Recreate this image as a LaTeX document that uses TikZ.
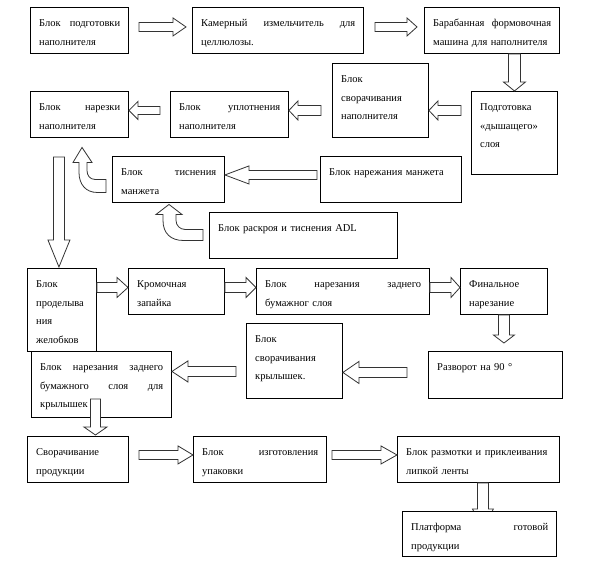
\documentclass[tikz,border=0pt]{standalone}
\usepackage{fontspec}
\setmainfont{Liberation Serif}
\usetikzlibrary{calc}
\tikzset{
  boxst/.style={draw=black, line width=0.9pt, fill=white, inner sep=0pt, anchor=north west},
  txt/.style={inner sep=0pt, anchor=north west, align=left, font=\fontsize{10.5}{18.5}\selectfont},
  blockarrow/.style={draw=black!80, line width=0.8pt, fill=white, line join=miter},
}
\newcommand\jl[1]{\leavevmode\hbox to\hsize{#1}}
\newcommand\bx[6]{%
  \node[boxst, minimum width={#4-#2}, minimum height={#5-#3}] (#1) at (#2,#3) {};
  \node[txt, text width={#4-#2-17}] (#1t) at ({#2+9},{#3+11.5}) {\leavevmode\rule{0pt}{8pt}#6};}
% block arrow: tail, tip, shaft half width, head half width, head length
\newcommand\barrow[5]{%
  \coordinate (tmpT) at #1;
  \coordinate (tmpP) at #2;
  \coordinate (tmpB) at ($(tmpP)!#5pt!(tmpT)$);
  \draw[blockarrow] ($(tmpT)!#3pt!90:(tmpP)$) -- ($(tmpB)!#3pt!-90:(tmpT)$) -- ($(tmpB)!#4pt!-90:(tmpT)$)
     -- (tmpP) -- ($(tmpB)!#4pt!90:(tmpT)$) -- ($(tmpB)!#3pt!90:(tmpT)$) -- ($(tmpT)!#3pt!-90:(tmpP)$) -- cycle;}
\begin{document}
\begin{tikzpicture}[x=1pt,y=-1pt]
\useasboundingbox (0,0) rectangle (599,568);
\bx{b1}{30}{7}{128}{53}{\jl{Блок\hfill подготовки}\\\mbox{наполнителя}}
\bx{b2}{192}{7}{363}{53}{\jl{Камерный\hfill измельчитель\hfill для}\\\mbox{целлюлозы.}}
\bx{b3}{424}{7}{559}{53}{\jl{Барабанная\hfill формовочная}\\\mbox{машина для наполнителя}}
\bx{b4}{471}{91}{557}{174}{\mbox{Подготовка}\\\mbox{«дышащего»}\\\mbox{слоя}}
\bx{b5}{332}{63}{428}{137}{\mbox{Блок}\\\mbox{сворачивания}\\\mbox{наполнителя}}
\bx{b6}{170}{91}{288}{137}{\jl{Блок\hfill уплотнения}\\\mbox{наполнителя}}
\bx{b7}{30}{91}{128}{137}{\jl{Блок\hfill нарезки}\\\mbox{наполнителя}}
\bx{b8}{112}{156}{224}{202}{\jl{Блок\hfill тиснения}\\\mbox{манжета}}
\bx{b9}{320}{156}{461}{202}{\mbox{Блок нарежания манжета}}
\bx{b10}{209}{212}{397}{258}{\mbox{Блок раскроя и тиснения ADL}}
\bx{b11}{27}{268}{96}{351}{\mbox{Блок}\\\mbox{проделыва}\\\mbox{ния}\\\mbox{желобков}}
\bx{b12}{128}{268}{224}{314}{\mbox{Кромочная}\\\mbox{запайка}}
\bx{b13}{256}{268}{429}{314}{\jl{Блок\hfill нарезания\hfill заднего}\\\mbox{бумажног слоя}}
\bx{b14}{460}{268}{547}{314}{\mbox{Финальное}\\\mbox{нарезание}}
\bx{b15}{428}{351}{562}{398}{\mbox{Разворот на 90 °}}
\bx{b16}{246}{323}{342}{398}{\mbox{Блок}\\\mbox{сворачивания}\\\mbox{крылышек.}}
\bx{b17}{31}{351}{171}{417}{\jl{Блок\hfill нарезания\hfill заднего}\\\jl{бумажного\hfill слоя\hfill для}\\\mbox{крылышек}}
\bx{b18}{27}{436}{128}{482}{\mbox{Сворачивание}\\\mbox{продукции}}
\bx{b19}{193}{436}{326}{482}{\jl{Блок\hfill изготовления}\\\mbox{упаковки}}
\bx{b20}{397}{436}{559}{482}{\mbox{Блок размотки и приклеивания}\\\mbox{липкой ленты}}
% arrows
\barrow{($(b1.east)+(10,-3.5)$)}{($(b2.west)+(-6,-3.5)$)}{4.5}{9}{13}
\barrow{($(b2.east)+(11,-3.5)$)}{($(b3.west)+(-7,-3.5)$)}{4.5}{9}{10}
\barrow{(b3.south -| b4.north)}{(b4.north)}{6}{11}{9}
\barrow{($(b4.west)+(-10,-22.5)$)}{($(b5.east)+(0,10)$)}{5}{9.5}{9}
\barrow{($(b5.west)+(-11,10)$)}{($(b6.east)+(0,-4)$)}{5}{9.5}{9}
\barrow{($(b6.west)+(-10,-4)$)}{($(b7.east)+(0,-4)$)}{4}{9}{9}
\barrow{($(b9.west)+(-3,-4.5)$)}{($(b8.east)+(0,-4.5)$)}{4.5}{9}{24}
\barrow{($(b7.south)+(-20.5,19)$)}{($(b11.north)+(-3,-1)$)}{5.5}{11}{27}
\barrow{($(b11.east)+(0,-22.5)$)}{($(b12.west)+(0,-4)$)}{5}{10}{11}
\barrow{($(b12.east)+(0,-4)$)}{($(b13.west)+(0,-4)$)}{5}{10}{10}
\barrow{($(b13.east)+(0,-4)$)}{($(b14.west)+(0,-4)$)}{5}{10}{9}
\barrow{(b14.south)}{($(b15.north)+(8.5,-8)$)}{5.5}{10.5}{8}
\barrow{($(b15.west)+(-21,-2.5)$)}{($(b16.east)+(0,11.5)$)}{5}{11}{16}
\barrow{($(b16.west)+(-10,10.5)$)}{($(b17.east)+(0,-13)$)}{5}{10.5}{16}
\barrow{($(b17.south)+(-6,-19)$)}{($(b18.north)+(17.5,-1)$)}{5}{11.5}{8}
\barrow{($(b18.east)+(10,-4.5)$)}{($(b19.west)+(0,-4.5)$)}{4.5}{9}{15}
\barrow{($(b19.east)+(5,-4.5)$)}{($(b20.west)+(0,-4.5)$)}{4.5}{9}{16}
\barrow{($(b20.south)+(4.5,0)$)}{($(b20.south)+(4.5,46)$)}{5.5}{10.5}{20}
% bent arrows
\begin{scope}[shift={(b8.west)}]
\draw[blockarrow] (-6,0) -- (-17,0) .. controls (-22,0) and (-25,-4) .. (-25,-9) -- (-25,-17) -- (-20,-17)
  -- (-30,-32) -- (-39,-17) -- (-33,-17) -- (-33,-7) .. controls (-33,5) and (-26,13) .. (-15,13) -- (-6,13) -- cycle;
\end{scope}
\begin{scope}[shift={(b10.west)}]
\draw[blockarrow] (-6,-6) -- (-24,-6) .. controls (-29,-6) and (-33,-10) .. (-33,-15) -- (-33,-21) -- (-27,-21)
  -- (-40,-31) -- (-53,-21) -- (-46,-21) -- (-46,-15) .. controls (-46,-2) and (-38,5) .. (-26,5) -- (-6,5) -- cycle;
\end{scope}
\bx{b21}{402}{511}{556}{556}{\jl{Платформа\hfill готовой}\\\mbox{продукции}}
\end{tikzpicture}
\end{document}
